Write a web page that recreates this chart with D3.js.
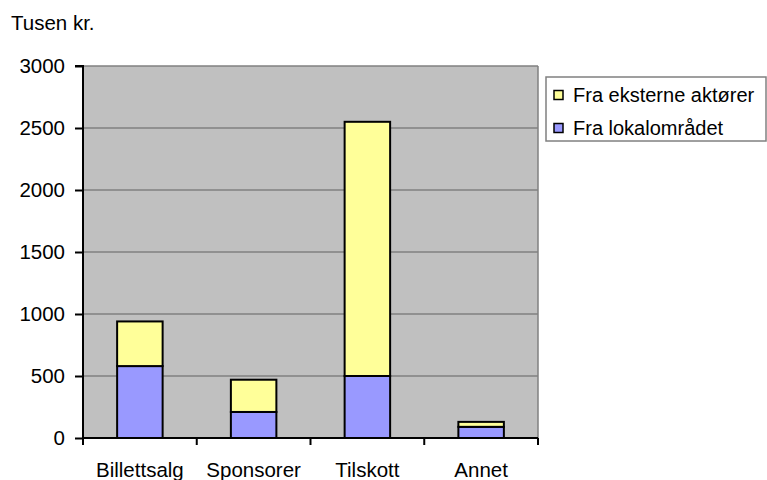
<!DOCTYPE html>
<html lang="en">
  <head>
    <meta charset="utf-8">
    <title>Tusen kr.</title>
    <script type="text/javascript" src="https://cdn.jsdelivr.net/npm/d3@7"></script>
    <style type="text/css">
      body { margin: 0; background: #fff; }
      text { font-family: "Liberation Sans", Arial, sans-serif; }
    </style>
  </head>
  <body>
    <script type="text/javascript">

      //Width and height
      var w = 767;
      var h = 480;
      var fs = "20.5px";

      //Data
      var categories = ["Billettsalg", "Sponsorer", "Tilskott", "Annet"];
      var lokal = [580, 210, 500, 90];
      var eksterne = [360, 260, 2050, 40];
      var yTicks = [0, 500, 1000, 1500, 2000, 2500, 3000];
      var seriesNames = ["Fra eksterne aktører", "Fra lokalområdet"];
      var seriesColors = ["#FFFF99", "#9999FF"];

      var plot = { left: 83, right: 538, top: 66, bottom: 438 };

      var x = d3.scaleBand()
                .domain(categories)
                .range([plot.left, plot.right])
                .paddingInner(0.6)
                .paddingOuter(0.3);

      var y = d3.scaleLinear()
                .domain([0, 3000])
                .range([plot.bottom, plot.top]);

      var svg = d3.select("body")
                  .append("svg")
                  .attr("width", w)
                  .attr("height", h);

      //Plot background
      svg.append("rect")
         .attr("x", plot.left)
         .attr("y", plot.top)
         .attr("width", plot.right - plot.left)
         .attr("height", plot.bottom - plot.top)
         .style("fill", "#C0C0C0");

      //Gridlines
      svg.selectAll("line.grid")
         .data(yTicks.slice(1))
         .enter()
         .append("line")
         .attr("class", "grid")
         .attr("x1", plot.left)
         .attr("x2", plot.right)
         .attr("y1", function(d) { return y(d); })
         .attr("y2", function(d) { return y(d); })
         .style("stroke", "#808080")
         .style("stroke-width", 1.5);

      //Right border of plot
      svg.append("line")
         .attr("x1", plot.right).attr("x2", plot.right)
         .attr("y1", plot.top).attr("y2", plot.bottom)
         .style("stroke", "#808080")
         .style("stroke-width", 1.5);

      //Stacked bars
      var stackData = categories.map(function(c, i) {
        return { cat: c, lokal: lokal[i], eksterne: eksterne[i] };
      });
      var stack = d3.stack().keys(["lokal", "eksterne"]);
      var layers = stack(stackData);
      var layerColors = [seriesColors[1], seriesColors[0]];

      svg.selectAll("g.layer")
         .data(layers)
         .enter()
         .append("g")
         .attr("class", "layer")
         .style("fill", function(d, i) { return layerColors[i]; })
         .selectAll("rect")
         .data(function(d) { return d; })
         .enter()
         .append("rect")
         .attr("x", function(d) { return x(d.data.cat); })
         .attr("width", x.bandwidth())
         .attr("y", function(d) { return y(d[1]); })
         .attr("height", function(d) { return y(d[0]) - y(d[1]); })
         .style("stroke", "#000")
         .style("stroke-width", 2);

      //Y axis
      var yAxis = d3.axisLeft(y)
                    .tickValues(yTicks)
                    .tickSize(8)
                    .tickPadding(10)
                    .tickFormat(d3.format("d"));

      var gy = svg.append("g")
                  .attr("transform", "translate(" + plot.left + ",0)")
                  .call(yAxis);
      gy.select(".domain").attr("d", "M-8," + plot.top + "H0V" + plot.bottom);
      gy.selectAll("text").style("font-size", fs).style("fill", "#000")
        .attr("font-family", "Liberation Sans, Arial, sans-serif");
      gy.selectAll("line, path").style("stroke", "#000").style("stroke-width", 2);

      //X axis
      var gx = svg.append("g")
                  .attr("transform", "translate(0," + plot.bottom + ")");
      gx.append("line")
        .attr("x1", plot.left).attr("x2", plot.right)
        .attr("y1", 0).attr("y2", 0)
        .style("stroke", "#000").style("stroke-width", 2);

      var step = x.step();
      var bounds = [plot.left].concat(categories.map(function(c) {
        return x(c) + x.bandwidth() / 2 + step / 2;
      }));
      gx.selectAll("line.tick")
        .data(bounds)
        .enter()
        .append("line")
        .attr("class", "tick")
        .attr("x1", function(d) { return d; })
        .attr("x2", function(d) { return d; })
        .attr("y1", 0).attr("y2", 7)
        .style("stroke", "#000").style("stroke-width", 2);

      gx.selectAll("text")
        .data(categories)
        .enter()
        .append("text")
        .attr("x", function(d) { return x(d) + x.bandwidth() / 2; })
        .attr("y", 39)
        .attr("text-anchor", "middle")
        .style("font-size", fs)
        .text(function(d) { return d; });

      //Unit label
      svg.append("text")
         .attr("x", 11)
         .attr("y", 30)
         .style("font-size", fs)
         .text("Tusen kr.");

      //Legend
      var legend = svg.append("g");
      legend.append("rect")
            .attr("x", 546).attr("y", 77)
            .attr("width", 220).attr("height", 64)
            .style("fill", "#fff")
            .style("stroke", "#808080")
            .style("stroke-width", 1.5);

      var items = legend.selectAll("g.item")
                        .data(seriesNames)
                        .enter()
                        .append("g")
                        .attr("class", "item")
                        .attr("transform", function(d, i) {
                          return "translate(554," + (95 + i * 33) + ")";
                        });
      items.append("rect")
           .attr("x", 0).attr("y", -4.5)
           .attr("width", 9).attr("height", 9)
           .style("fill", function(d, i) { return seriesColors[i]; })
           .style("stroke", "#000")
           .style("stroke-width", 1.5);
      items.append("text")
           .attr("x", 19)
           .attr("y", 7)
           .style("font-size", "20px")
           .text(function(d) { return d; });

    </script>
  </body>
</html>
